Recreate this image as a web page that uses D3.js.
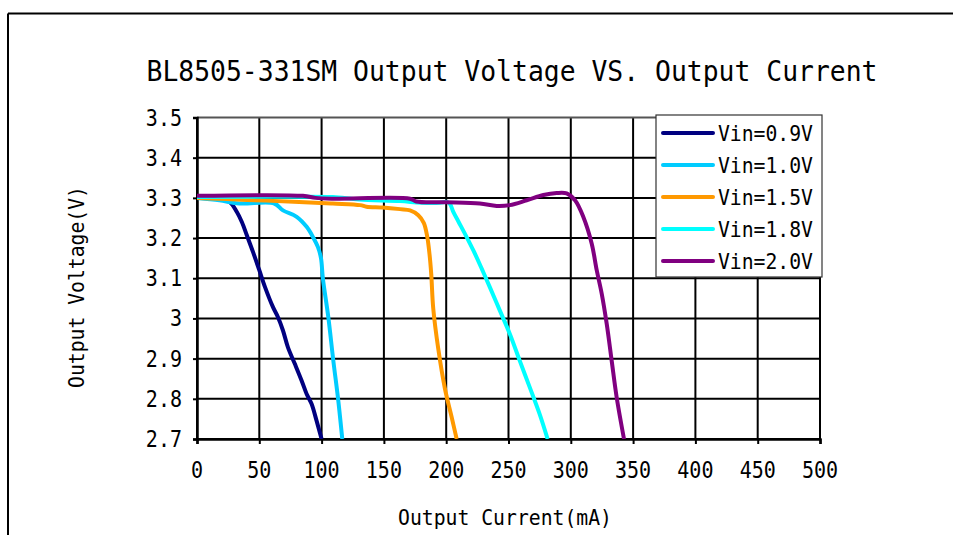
<!DOCTYPE html>
<html>
<head>
<meta charset="utf-8">
<script src="https://cdn.jsdelivr.net/npm/d3@7"></script>
<style>
  html, body { margin: 0; padding: 0; background: #fff; }
  svg { display: block; }
  text { font-family: "DejaVu Sans Mono", "Liberation Mono", monospace; fill: #000; }
</style>
</head>
<body>
<svg id="chart" width="953" height="535"></svg>
<script>
const title = "BL8505-331SM Output Voltage VS. Output Current";
const xLabel = "Output Current(mA)";
const yLabel = "Output Voltage(V)";
const xTicks = [0, 50, 100, 150, 200, 250, 300, 350, 400, 450, 500];
const yTicks = [2.7, 2.8, 2.9, 3.0, 3.1, 3.2, 3.3, 3.4, 3.5];
const yTickLabels = ["2.7", "2.8", "2.9", "3", "3.1", "3.2", "3.3", "3.4", "3.5"];
const seriesNames = ["Vin=0.9V", "Vin=1.0V", "Vin=1.5V", "Vin=1.8V", "Vin=2.0V"];
const seriesColors = ["#000080", "#00CCFF", "#FF9900", "#00FFFF", "#800080"];

// [current mA, voltage V]
const vin09 = [[0,3.30],[2,3.30],[18,3.296],[26,3.29],[32,3.265],[36,3.24],[40,3.207],[45,3.165],[50,3.12],[54.6,3.078],[61,3.028],[65,3.003],[69,2.97],[73,2.928],[78.5,2.887],[84,2.845],[88,2.812],[92,2.787],[96,2.745],[100,2.70]];
const vin10 = [[0,3.30],[18,3.294],[34,3.286],[62,3.286],[69,3.269],[80,3.253],[88,3.228],[93,3.203],[97,3.178],[99.5,3.15],[101,3.10],[105.4,3.003],[109.4,2.895],[113.4,2.795],[116.6,2.70]];
const vin15 = [[0,3.30],[40,3.295],[82,3.29],[109,3.286],[131,3.282],[136,3.278],[149,3.276],[163,3.272],[171,3.269],[177.6,3.257],[182,3.238],[184.8,3.203],[186.6,3.16],[188,3.11],[189.6,3.025],[193.6,2.925],[199,2.825],[204.4,2.754],[208.4,2.70]];
const vin18 = [[0,3.302],[80,3.303],[109,3.302],[130,3.296],[163,3.292],[180,3.288],[195,3.288],[200.4,3.29],[203,3.285],[205.7,3.265],[210,3.24],[216,3.205],[222,3.168],[228.5,3.124],[235,3.078],[243,3.02],[251,2.962],[259,2.895],[267,2.829],[275,2.762],[281.4,2.70]];
const vin20 = [[0,3.305],[85,3.305],[95,3.30],[109,3.298],[171,3.298],[176,3.291],[200,3.289],[227,3.286],[240.5,3.28],[251,3.282],[264.6,3.294],[278,3.307],[288.7,3.312],[296.7,3.311],[303.4,3.294],[310,3.253],[316.8,3.186],[320.8,3.12],[324.8,3.062],[328.8,2.987],[332.8,2.895],[336.8,2.804],[342.7,2.70]];
const seriesData = [vin09, vin10, vin15, vin18, vin20];

const svg = d3.select("#chart");
const W = 953, H = 535;
const plot = { left: 197, right: 820, top: 117.5, bottom: 439 };

const x = d3.scaleLinear().domain([0, 500]).range([plot.left, plot.right]);
const y = d3.scaleLinear().domain([2.7, 3.5]).range([plot.bottom, plot.top]);

// condense text horizontally (tall narrow gothic look)
function condense(sel, factor) {
  sel.each(function () {
    const w = this.getComputedTextLength();
    d3.select(this).attr("textLength", w * factor).attr("lengthAdjust", "spacingAndGlyphs");
  });
}

// outer frame (top & left lines)
svg.append("line").attr("x1", 8).attr("x2", W).attr("y1", 13.5).attr("y2", 13.5)
  .attr("stroke", "#000").attr("stroke-width", 2);
svg.append("line").attr("x1", 8).attr("x2", 8).attr("y1", 13.5).attr("y2", H)
  .attr("stroke", "#000").attr("stroke-width", 2);

// title
svg.append("text").attr("x", 512).attr("y", 81).attr("text-anchor", "middle")
  .attr("font-size", 28).attr("textLength", 731).attr("lengthAdjust", "spacingAndGlyphs")
  .text(title);

// gridlines
const grid = svg.append("g");
grid.selectAll("line.v").data(xTicks).join("line")
  .attr("x1", d => x(d)).attr("x2", d => x(d))
  .attr("y1", plot.top).attr("y2", plot.bottom)
  .attr("stroke", "#000").attr("stroke-width", 2);
grid.selectAll("line.h").data(yTicks).join("line")
  .attr("x1", plot.left).attr("x2", plot.right)
  .attr("y1", d => y(d)).attr("y2", d => y(d))
  .attr("stroke", d => d === 3.5 ? "#555" : "#000").attr("stroke-width", 2);

// axes
const xAxis = d3.axisBottom(x).tickValues(xTicks).tickSize(5).tickFormat("");
const gx = svg.append("g").attr("transform", `translate(0,${plot.bottom})`).call(xAxis);
gx.select(".domain").attr("stroke-width", 2.5);
gx.selectAll(".tick line").attr("stroke-width", 2);

const yAxis = d3.axisLeft(y).tickValues(yTicks).tickSize(4).tickFormat("");
const gy = svg.append("g").attr("transform", `translate(${plot.left},0)`).call(yAxis);
gy.select(".domain").attr("stroke-width", 2.5);
gy.selectAll(".tick line").attr("stroke-width", 2);

// tick labels
svg.append("g").selectAll("text").data(xTicks).join("text")
  .attr("x", d => x(d)).attr("y", 478).attr("text-anchor", "middle")
  .attr("font-size", 23).text(d => String(d)).call(condense, 0.87);
svg.append("g").selectAll("text").data(yTicks).join("text")
  .attr("x", 182).attr("y", d => y(d) + 8).attr("text-anchor", "end")
  .attr("font-size", 23).text((d, i) => yTickLabels[i]).call(condense, 0.87);

// axis titles
svg.append("text").attr("x", 505).attr("y", 525).attr("text-anchor", "middle")
  .attr("font-size", 22).attr("textLength", 214).attr("lengthAdjust", "spacingAndGlyphs").text(xLabel);
svg.append("text").attr("transform", "translate(84,287) rotate(-90)").attr("text-anchor", "middle")
  .attr("font-size", 22).attr("textLength", 202).attr("lengthAdjust", "spacingAndGlyphs").text(yLabel);

// clip
svg.append("clipPath").attr("id", "clip").append("rect")
  .attr("x", plot.left).attr("y", plot.top - 5).attr("width", plot.right - plot.left).attr("height", plot.bottom - plot.top + 5);

const line = d3.line().x(d => x(d[0])).y(d => y(d[1])).curve(d3.curveCatmullRom.alpha(0.5));
const gl = svg.append("g").attr("clip-path", "url(#clip)");
[0, 1, 2, 3, 4].forEach(i => {
  gl.append("path").datum(seriesData[i]).attr("d", line)
    .attr("fill", "none").attr("stroke", seriesColors[i]).attr("stroke-width", 4)
    .attr("stroke-linejoin", "round").attr("stroke-linecap", "butt");
});

// legend
const lg = svg.append("g");
lg.append("rect").attr("x", 656).attr("y", 115).attr("width", 166).attr("height", 162)
  .attr("fill", "#fff").attr("stroke", "#333").attr("stroke-width", 1.2);
seriesNames.forEach((name, i) => {
  const cy = 133 + i * 32;
  lg.append("line").attr("x1", 663).attr("x2", 713).attr("y1", cy).attr("y2", cy)
    .attr("stroke", seriesColors[i]).attr("stroke-width", 4).attr("stroke-linecap", "round");
  lg.append("text").attr("x", 718).attr("y", cy + 8).attr("font-size", 22)
    .attr("textLength", 95).attr("lengthAdjust", "spacingAndGlyphs").text(name);
});
</script>
</body>
</html>
